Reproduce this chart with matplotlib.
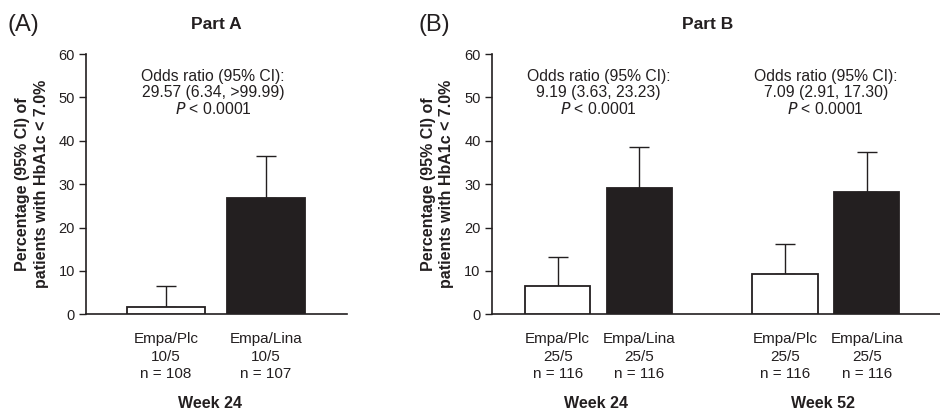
import numpy as np
import matplotlib.pyplot as plt

plt.rcParams['font.family'] = ['Liberation Sans', 'DejaVu Sans']

# Part A (week 24)
a_labels = ["Empa/Plc\n10/5\nn = 108", "Empa/Lina\n10/5\nn = 107"]
a_values = [1.6, 26.9]
a_upper = [6.5, 36.6]
a_or = "Odds ratio (95% CI):\n29.57 (6.34, >99.99)\n$\\it{P}$ < 0.0001"

# Part B (week 24, week 52)
b_labels = ["Empa/Plc\n25/5\nn = 116", "Empa/Lina\n25/5\nn = 116",
            "Empa/Plc\n25/5\nn = 116", "Empa/Lina\n25/5\nn = 116"]
b_values = [6.6, 29.1, 9.2, 28.2]
b_upper = [13.1, 38.5, 16.2, 37.5]
b_or = ["Odds ratio (95% CI):\n9.19 (3.63, 23.23)\n$\\it{P}$ < 0.0001",
        "Odds ratio (95% CI):\n7.09 (2.91, 17.30)\n$\\it{P}$ < 0.0001"]
weeks = ["Week 24", "Week 52"]

ink = "#231f20"
fills = ["white", ink]
ylab = "Percentage (95% CI) of\npatients with HbA1c < 7.0%"

fig = plt.figure(figsize=(9.4, 4.11), dpi=100)
axA = fig.add_axes([0.0915, 0.2353, 0.2777, 0.6333])
axB = fig.add_axes([0.523, 0.2353, 0.477, 0.6333])


def style(ax):
    ax.set_ylim(0, 60)
    ax.set_yticks(np.arange(0, 61, 10))
    for s in ["top", "right"]:
        ax.spines[s].set_visible(False)
    for s in ["left", "bottom"]:
        ax.spines[s].set_linewidth(1.2)
        ax.spines[s].set_color(ink)
    ax.tick_params(axis="y", length=5, width=1, colors=ink, labelsize=10.5, pad=3)
    ax.tick_params(axis="x", length=0, labelsize=11, pad=13, colors=ink)
    ax.set_ylabel(ylab, fontsize=11.5, fontweight="bold", color=ink, labelpad=7,
                  linespacing=1.3)


def bars(ax, pos, vals, ups, width):
    colors = [fills[i % 2] for i in range(len(vals))]
    ax.bar(pos, vals, width=width, color=colors, edgecolor=ink, linewidth=1.3, zorder=3)
    err = np.array(ups) - np.array(vals)
    ax.errorbar(pos, vals, yerr=[np.zeros_like(err), err], fmt="none", ecolor=ink,
                elinewidth=1, capsize=7, capthick=1, zorder=2)


# Panel A
posA = np.array([1, 2])
style(axA)
bars(axA, posA, a_values, a_upper, 0.78)
axA.set_xlim(0.2, 2.81)
axA.set_xticks(posA)
axA.set_xticklabels(a_labels, linespacing=1.3)
axA.text(1.47, 51, a_or, ha="center", va="center", fontsize=11.3, color=ink,
         linespacing=1.05)
axA.text(1.44, -20.6, weeks[0], ha="center", va="center", fontsize=11.5,
         fontweight="bold", color=ink)
axA.set_title("Part A", fontsize=12.5, fontweight="bold", color=ink, pad=18)

# Panel B
posB = np.array([1, 2, 3.79, 4.79])
style(axB)
bars(axB, posB, b_values, b_upper, 0.8)
axB.set_xlim(0.19, 5.69)
axB.set_xticks(posB)
axB.set_xticklabels(b_labels, linespacing=1.3)
for k in range(2):
    c = (posB[2 * k] + posB[2 * k + 1]) / 2
    axB.text(c, 51, b_or[k], ha="center", va="center", fontsize=11.3, color=ink,
             linespacing=1.05)
    axB.text(c - 0.03, -20.6, weeks[k], ha="center", va="center", fontsize=11.5,
             fontweight="bold", color=ink)
fig.text(0.753, 0.94, "Part B", ha="center", va="center", fontsize=12.5,
         fontweight="bold", color=ink)

fig.text(0.008, 0.94, "(A)", ha="left", va="center", fontsize=17, color=ink)
fig.text(0.445, 0.94, "(B)", ha="left", va="center", fontsize=17, color=ink)

fig.savefig("out.png", dpi=100)
